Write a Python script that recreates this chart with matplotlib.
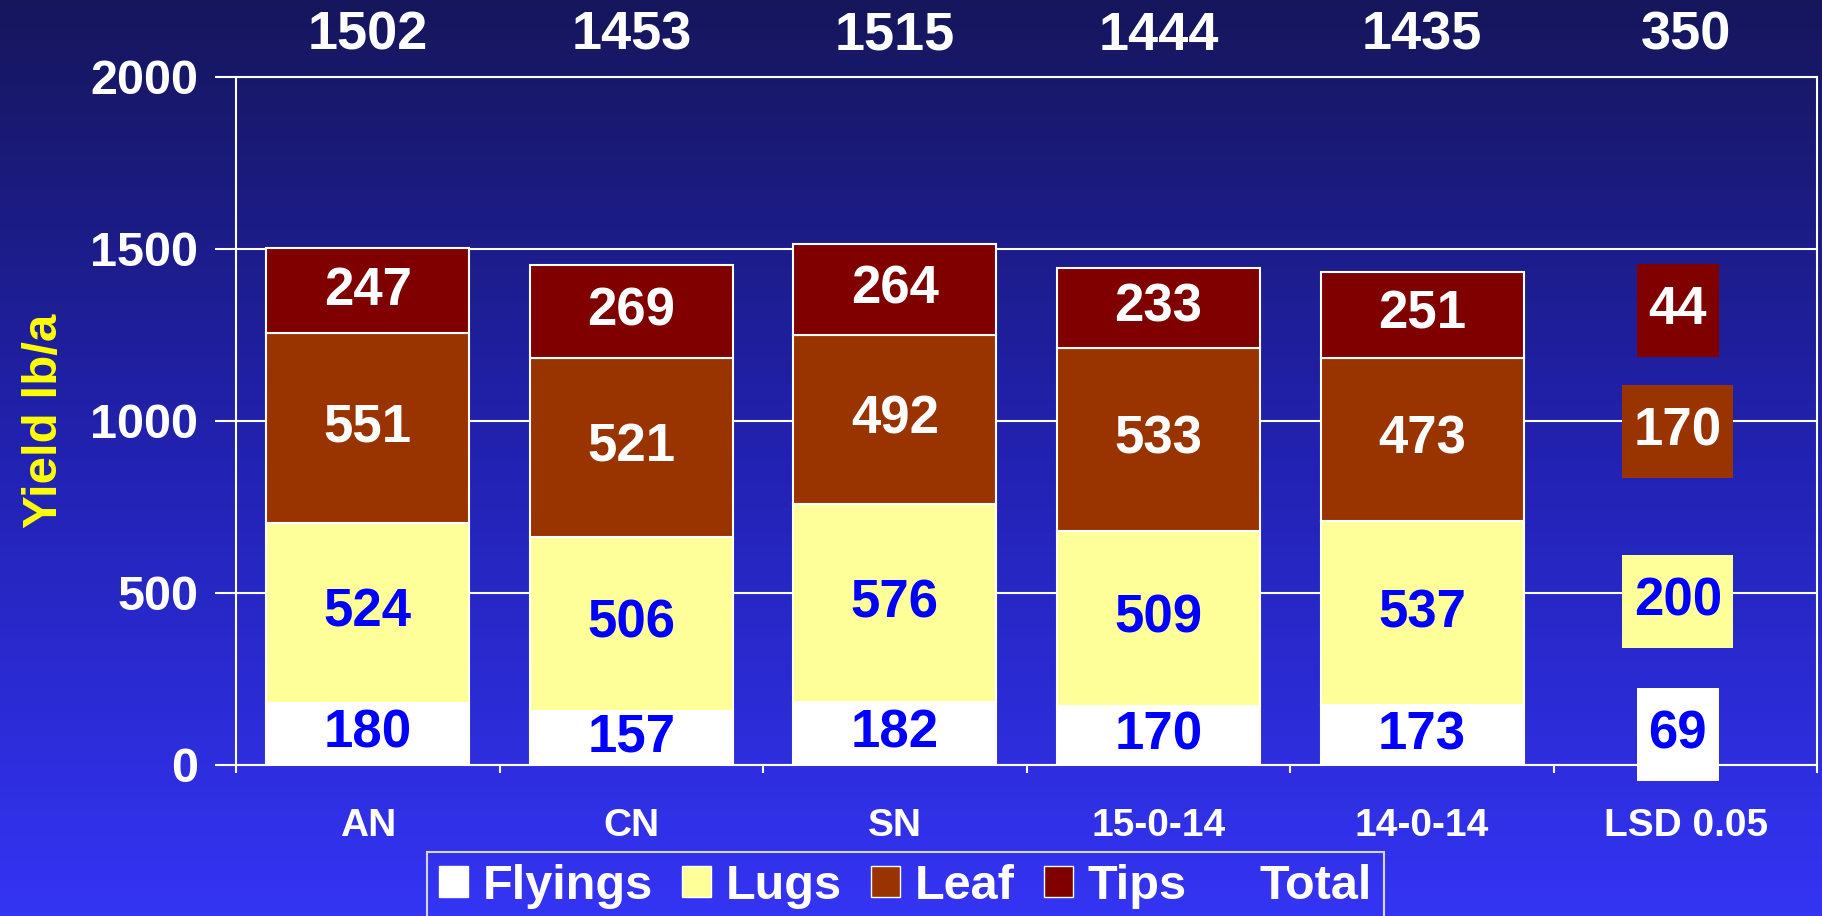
import numpy as np
import matplotlib
matplotlib.use("Agg")
import matplotlib.pyplot as plt
from matplotlib.patches import Patch, Rectangle
from matplotlib.colors import LinearSegmentedColormap

plt.rcParams['font.family'] = ['Liberation Sans', 'DejaVu Sans']
plt.rcParams['font.weight'] = 'bold'

# data
treatments = ['AN', 'CN', 'SN', '15-0-14', '14-0-14']
flyings = [180, 157, 182, 170, 173]
lugs = [524, 506, 576, 509, 537]
leaf = [551, 521, 492, 533, 473]
tips = [247, 269, 264, 233, 251]
totals = [1502, 1453, 1515, 1444, 1435]

lsd_label = 'LSD 0.05'
lsd_values = [69, 200, 170, 44]   # flyings, lugs, leaf, tips
lsd_total = 350

series_names = ['Flyings', 'Lugs', 'Leaf', 'Tips']
series_colors = ['#FFFFFF', '#FFFF99', '#993300', '#800000']
text_colors = ['#0000FF', '#0000FF', '#FFFFFF', '#FFFFFF']

# where the LSD boxes sit (layout only)
lsd_label_y = [88, 476, 970, 1322]

fig = plt.figure(figsize=(18.22, 9.16), dpi=100)

# gradient background
bg = fig.add_axes([0, 0, 1, 1], zorder=-10)
grad = LinearSegmentedColormap.from_list('bg', ['#16165C', '#2222B2', '#3434F4'])
bg.imshow(np.linspace(0, 1, 256).reshape(-1, 1), aspect='auto', cmap=grad,
          extent=[0, 1, 0, 1])
bg.axis('off')

ax = fig.add_axes([0.1295, 0.165, 0.868, 0.751])
ax.patch.set_alpha(0)

x = np.arange(len(treatments))
bottom = np.zeros(len(treatments))
for vals, col, tcol in zip([flyings, lugs, leaf, tips], series_colors, text_colors):
    vals = np.array(vals)
    ax.bar(x, vals, width=0.77, bottom=bottom, color=col, edgecolor='white',
           linewidth=1.5, zorder=3)
    for xi, b, v in zip(x, bottom, vals):
        ax.text(xi, b + v / 2, str(v), ha='center', va='center', color=tcol,
                fontsize=38, fontweight='bold', zorder=4)
    bottom = bottom + vals

# LSD column: boxed labels
xl = len(treatments)
for v, y, col, tcol in zip(lsd_values, lsd_label_y, series_colors, text_colors):
    w = 0.09 + 0.11 * len(str(v))
    ax.add_patch(Rectangle((xl - 0.03 - w / 2, y - 135), w, 270, facecolor=col,
                           edgecolor='none', zorder=4, clip_on=False))
    ax.text(xl - 0.03, y, str(v), ha='center', va='center', color=tcol, fontsize=38,
            fontweight='bold', zorder=5)

# totals above the plot
all_totals = totals + [lsd_total]
for xi, t in enumerate(all_totals):
    ax.text(xi, 1.06, str(t), transform=ax.get_xaxis_transform(), ha='center',
            va='center', color='white', fontsize=39, fontweight='bold')

ax.set_xlim(-0.5, 5.5)
ax.set_ylim(0, 2000)
ax.set_yticks([0, 500, 1000, 1500, 2000])
ax.tick_params(axis='y', colors='white', labelsize=35, length=15, width=1.5, pad=12)
ax.yaxis.grid(True, color='white', linewidth=1.5, zorder=0)
ax.set_axisbelow(True)

ax.set_xticks(np.arange(-0.5, 6, 1))
ax.set_xticklabels([])
ax.set_xticks(np.arange(6), treatments + [lsd_label], minor=True)
ax.tick_params(axis='x', which='major', colors='white', length=6, width=1.5)
ax.tick_params(axis='x', which='minor', length=0, labelsize=28, labelcolor='white', pad=31)

for s in ax.spines.values():
    s.set_color('white')
    s.set_linewidth(1.5)

ax.set_ylabel('Yield lb/a', color='#FFFF00', fontsize=35.5, fontweight='bold')
ax.yaxis.set_label_coords(-0.107, 0.5)

handles = [Patch(facecolor=c, edgecolor='white', linewidth=1) for c in series_colors]
handles.append(Patch(facecolor='none', edgecolor='none'))
leg = fig.legend(handles, series_names + ['Total'], loc='upper center',
                 bbox_to_anchor=(0.497, 0.07), ncol=5, frameon=True,
                 fontsize=35, handlelength=0.6, handleheight=0.6,
                 handletextpad=0.3, columnspacing=0.6, borderpad=0.25,
                 borderaxespad=0, fancybox=False)
leg.get_frame().set_facecolor('none')
leg.get_frame().set_edgecolor('white')
leg.get_frame().set_linewidth(1.5)
for t in leg.get_texts():
    t.set_color('white')
    t.set_fontweight('bold')

fig.savefig('out.png', dpi=100)
